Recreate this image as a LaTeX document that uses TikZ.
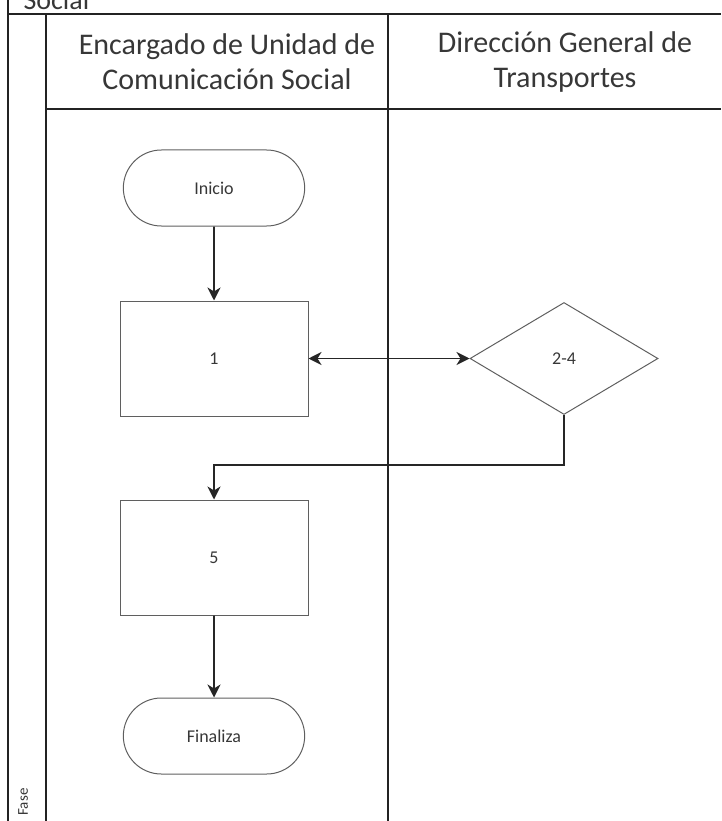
\documentclass[tikz,border=0pt]{standalone}
\usepackage{fontspec}
\setmainfont{Carlito}
\usetikzlibrary{arrows.meta,positioning,shapes.geometric,shapes.misc}
\definecolor{laneline}{RGB}{35,35,35}
\definecolor{shapeline}{RGB}{95,95,95}
\definecolor{labelgray}{RGB}{55,55,55}

\begin{document}
\begin{tikzpicture}[
    x=1pt,y=-1pt,
    node distance=74pt,
    lane/.style={draw=laneline,line width=1.6pt},
    head/.style={align=center,font=\fontsize{30}{35}\selectfont,text=labelgray},
    term/.style={rounded rectangle,draw=shapeline,line width=1pt,
      minimum width=188pt,minimum height=76pt,font=\fontsize{18}{20}\selectfont,text=labelgray},
    task/.style={rectangle,draw=shapeline,line width=1pt,
      minimum width=188pt,minimum height=115pt,font=\fontsize{18}{20}\selectfont,text=labelgray},
    check/.style={diamond,draw=shapeline,line width=1pt,inner sep=0pt,
      minimum width=188pt,minimum height=112pt,font=\fontsize{18}{20}\selectfont,text=labelgray},
    arrow/.style={-{Stealth[length=13pt,width=13pt,inset=4pt]},line width=1.8pt,draw=black!85}
  ]
    \clip (0,0) rectangle (721,821);
    % lane frame
    \draw[lane] (8,0) -- (8,821);
    \draw[lane] (8,14) -- (721,14);
    \draw[lane] (46,14) -- (46,821);
    \draw[lane] (388,14) -- (388,821);
    \draw[lane] (46,109) -- (721,109);
    \node[anchor=base west,font=\fontsize{28}{30}\selectfont,text=labelgray] (fasetop) at (20,10) {Social};
    \node[rotate=90,font=\fontsize{15}{17}\selectfont,text=labelgray] (fase) at (23,802) {Fase};
    \node[head] (lanea) at (227,62) {Encargado de Unidad de\\Comunicación Social};
    \node[head] (laneb) at (565,62) {Dirección General de\\Transportes};
    % steps
    \node[term] (inicio) at (214,188) {Inicio};
    \node[task,below=of inicio] (paso1) {1};
    \node[check,right=161pt of paso1] (paso24) {2-4};
    \node[task,below=83pt of paso1] (paso5) {5};
    \node[term,below=82pt of paso5] (fin) {Finaliza};
    \draw[arrow] (inicio) -- (paso1);
    \draw[arrow,{Stealth[length=13pt,width=13pt,inset=4pt]}-{Stealth[length=13pt,width=13pt,inset=4pt]}] (paso1) -- (paso24);
    \draw[arrow] (paso24.south) -- ++(0,50) -| (paso5.north);
    \draw[arrow] (paso5) -- (fin);
  \end{tikzpicture}
\end{document}
